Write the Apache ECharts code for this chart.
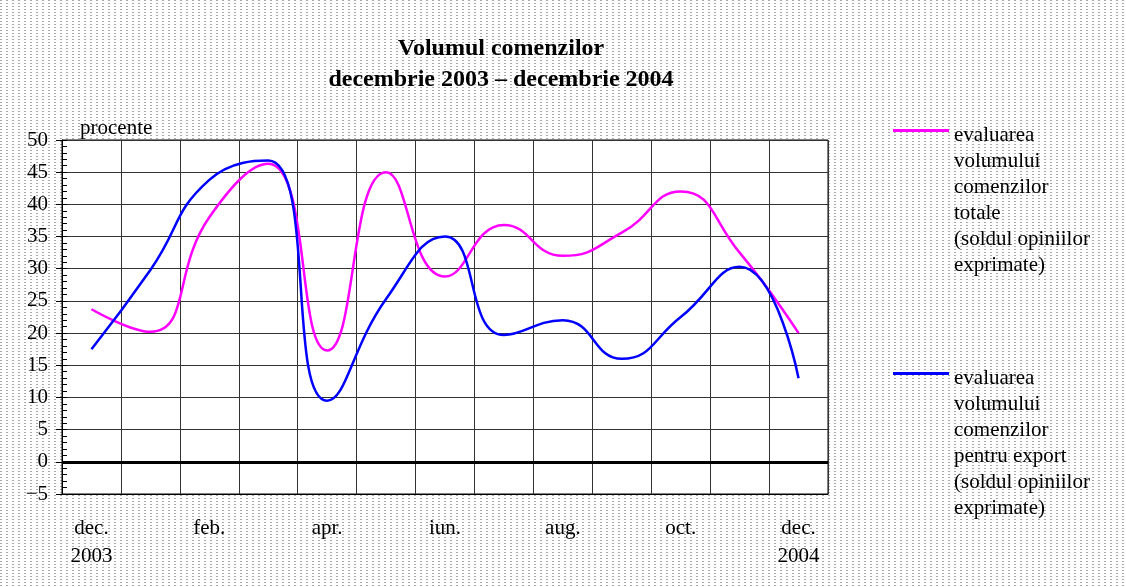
<!DOCTYPE html>
<html>
<head>
<meta charset="utf-8">
<script src="https://cdn.jsdelivr.net/npm/echarts@6/dist/echarts.min.js"></script>
<style>html,body{margin:0;padding:0;background:#fff}#c{width:1126px;height:587px}</style>
</head>
<body>
<div id="c"></div>
<script>
const categories = ['dec.\n2003','ian.','feb.','mar.','apr.','mai','iun.','iul.','aug.','sep.','oct.','nov.','dec.\n2004'];
const totalOrders = [23.7, 20.2, 38, 46.3, 17.3, 45, 28.8, 36.8, 32, 35.6, 42, 32.5, 20];
const exportOrders = [17.5, 29.8, 43.8, 46.8, 9.5, 25.3, 35, 19.7, 22, 16, 22.5, 30.3, 13];
const yTicks = {min: -5, max: 50, interval: 5};
const nameTotal = 'evaluarea\nvolumului\ncomenzilor\ntotale\n(soldul opiniilor\nexprimate)';
const nameExport = 'evaluarea\nvolumului\ncomenzilor\npentru export\n(soldul opiniilor\nexprimate)';

const FONT = 'Liberation Serif';
// dotted background pattern
const pat = document.createElement('canvas');
pat.width = 6; pat.height = 3;
const pc = pat.getContext('2d');
pc.fillStyle = '#ffffff'; pc.fillRect(0,0,6,3);
pc.fillStyle = '#a8a8a8'; pc.fillRect(0,0,2,1);

const legendIcon = 'path://M0,0H0.05V0.05H0ZM0,7H56V10H0ZM0,155.95H0.05V156H0Z';
const legendCommon = {
  orient: 'vertical', left: 893, padding: 0, selectedMode: false,
  itemWidth: 56, itemHeight: 156, symbolKeepAspect: false,
  icon: legendIcon,
  itemStyle: {borderWidth: 0},
  textStyle: {fontFamily: FONT, fontSize: 21, lineHeight: 26, color: '#000'}
};

const chart = echarts.init(document.getElementById('c'));
chart.setOption({
  backgroundColor: {image: pat, repeat: 'repeat'},
  animation: false,
  title: {
    text: 'Volumul comenzilor\ndecembrie 2003 – decembrie 2004',
    left: 496, top: 28, textAlign: 'center',
    textStyle: {fontFamily: FONT, fontSize: 24, fontWeight: 'bold', lineHeight: 31, color: '#000'}
  },
  legend: [
    Object.assign({}, legendCommon, {top: 122, data: [nameTotal]}),
    Object.assign({}, legendCommon, {top: 365, data: [nameExport]})
  ],
  grid: {left: 62, right: 298, top: 140, bottom: 93, show: true, backgroundColor: '#fff', borderColor: '#000', borderWidth: 1},
  xAxis: {
    type: 'category', data: categories, boundaryGap: true,
    axisLine: {onZero: false, lineStyle: {color: '#000', width: 1}},
    axisTick: {show: false},
    axisLabel: {interval: 1, margin: 20, fontFamily: FONT, fontSize: 21, lineHeight: 28, color: '#000'},
    splitLine: {show: true, interval: 0, lineStyle: {color: '#333', width: 1}}
  },
  yAxis: [
    {
      type: 'value', min: yTicks.min, max: yTicks.max, interval: yTicks.interval,
      name: 'procente', nameLocation: 'end', nameGap: 1,
      nameTextStyle: {fontFamily: FONT, fontSize: 21, color: '#000', align: 'left', padding: [0,0,0,18]},
      axisLine: {show: true, lineStyle: {color: '#000'}},
      axisTick: {show: true, length: 6, lineStyle: {color: '#000'}},
      axisLabel: {margin: 14, fontFamily: FONT, fontSize: 21, color: '#000',
        formatter: v => v < 0 ? '\u2212' + Math.abs(v) : String(v)},
      splitLine: {show: true, lineStyle: {color: '#333', width: 1}}
    },
    {
      type: 'value', position: 'left', min: yTicks.min, max: yTicks.max, interval: 1,
      axisLine: {show: false},
      axisTick: {show: true, inside: true, length: 5, lineStyle: {color: '#000'}},
      axisLabel: {show: false},
      splitLine: {show: false}
    }
  ],
  series: [
    {
      name: nameTotal, type: 'line', data: totalOrders, smooth: 0.5,
      showSymbol: false, symbol: 'none', color: '#ff00ff',
      lineStyle: {color: '#ff00ff', width: 2.5},
      markLine: {
        silent: true, symbol: 'none', label: {show: false},
        lineStyle: {color: '#000', width: 3, type: 'solid'},
        data: [{yAxis: 0}]
      },
      z: 3
    },
    {
      name: nameExport, type: 'line', data: exportOrders, smooth: 0.5,
      showSymbol: false, symbol: 'none', color: '#0000ff',
      lineStyle: {color: '#0000ff', width: 2.5},
      z: 4
    }
  ]
});
</script>
</body>
</html>
